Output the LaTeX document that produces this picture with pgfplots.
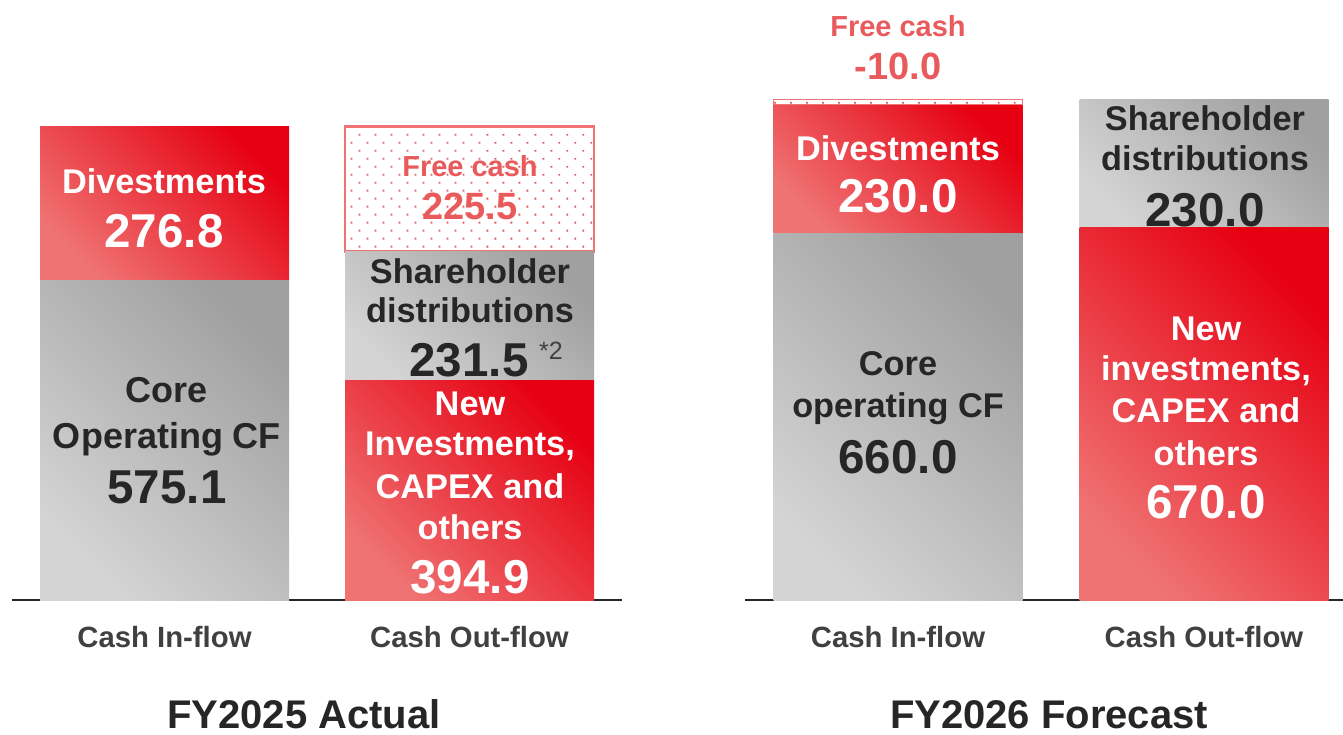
\documentclass[border=0pt]{standalone}
\usepackage{pgfplots}
\pgfplotsset{compat=1.18}
\usepackage{fontspec}
\setmainfont{Liberation Sans}
\usetikzlibrary{patterns.meta}
\definecolor{rdark}{HTML}{E60012}
\definecolor{rlight}{HTML}{EF7373}
\definecolor{gdark}{HTML}{A0A0A0}
\definecolor{glight}{HTML}{D4D4D4}
\definecolor{txtdark}{HTML}{262626}
\definecolor{catc}{HTML}{404040}
\definecolor{fcred}{HTML}{E95A5C}
\definecolor{fcborder}{HTML}{F07272}
\definecolor{axisc}{HTML}{262626}
\pgfplotsset{
  cfbar/.style={
    scale only axis, height=556pt, ymin=0, ymax=1000,
    enlargelimits=false,
    ybar stacked, bar width=249pt,
    hide y axis,
    axis x line=bottom,
    x axis line style={-, line width=2pt, color=axisc},
    xtick={0}, xtick style={draw=none},
    xticklabel style={anchor=base, yshift=-45pt, font=\fontsize{29.3}{29.3}\selectfont\bfseries, text=catc},
    clip=false,
  },
  redseg/.style={draw=none, top color=rdark, bottom color=rlight, shading angle=-45},
  grayseg/.style={draw=none, top color=gdark, bottom color=glight, shading angle=-45},
  fcseg/.style={draw=fcborder, line width=2.5pt, fill=white,
    postaction={pattern={Dots[distance=11.3pt, radius=1.3pt, angle=45]}, pattern color=fcred}},
}
\newcommand{\lbl}[5]{\node[anchor=base, text=#4, font=\fontsize{#5}{#5}\selectfont\bfseries, inner sep=0pt] at (#1pt,#2pt) {#3};}
\begin{document}
\begin{tikzpicture}
\path[use as bounding box] (0pt,0pt) rectangle (1343pt,734pt);
% FY2025 inflow
\begin{axis}[cfbar, at={(12pt,134pt)}, anchor=south west, width=305pt, xmin=-152.5, xmax=152.5, xticklabels={Cash In-flow}]
\addplot[grayseg] coordinates {(0,575.1)};
\addplot[redseg] coordinates {(0,276.8)};
\end{axis}
% FY2025 outflow
\begin{axis}[cfbar, at={(317pt,134pt)}, anchor=south west, width=305pt, xmin=-152.5, xmax=152.5, xticklabels={Cash Out-flow}]
\addplot[redseg] coordinates {(0,394.9)};
\addplot[grayseg] coordinates {(0,231.5)};
\addplot[fcseg] coordinates {(0,225.5)};
\end{axis}
% FY2026 inflow
\begin{axis}[cfbar, at={(745pt,134pt)}, anchor=south west, width=306pt, xmin=-153, xmax=153, xticklabels={Cash In-flow}]
\addplot[grayseg] coordinates {(0,660.0)};
\addplot[redseg] coordinates {(0,230.0)};
\addplot[fcseg, line width=1.5pt] coordinates {(0,10.0)};
\end{axis}
% FY2026 outflow
\begin{axis}[cfbar, at={(1051pt,134pt)}, anchor=south west, width=292pt, xmin=-153, xmax=139, xticklabels={Cash Out-flow}]
\addplot[redseg] coordinates {(0,670.0)};
\addplot[grayseg] coordinates {(0,230.0)};
\end{axis}
% labels FY2025 inflow
\lbl{164}{540}{Divestments}{white}{34.3}
\lbl{164}{486}{276.8}{white}{47.5}
\lbl{167}{331}{Core}{txtdark}{36}
\lbl{167}{285}{Operating CF}{txtdark}{36}
\lbl{167}{231}{575.1}{txtdark}{47.5}
% labels FY2025 outflow
\lbl{470}{557}{Free cash}{fcred}{29}
\lbl{470}{514}{225.5}{fcred}{38}
\lbl{470}{450}{Shareholder}{txtdark}{34.3}
\lbl{470}{411}{distributions}{txtdark}{34.3}
\lbl{469}{357}{231.5}{txtdark}{47.5}
\node[anchor=base, text=catc, font=\fontsize{25}{25}\selectfont, inner sep=0pt] at (551pt,374pt) {*2};
\lbl{470}{318}{New}{white}{34.3}
\lbl{470}{278}{Investments,}{white}{34.3}
\lbl{470}{236}{CAPEX and}{white}{34.3}
\lbl{470}{195}{others}{white}{34.3}
\lbl{470}{141}{394.9}{white}{47.5}
% labels FY2026 inflow
\lbl{898}{697}{Free cash}{fcred}{29}
\lbl{898}{654}{-10.0}{fcred}{38}
\lbl{898}{573}{Divestments}{white}{34.3}
\lbl{898}{521}{230.0}{white}{47.5}
\lbl{898}{358}{Core}{txtdark}{34.3}
\lbl{898}{316}{operating CF}{txtdark}{34.3}
\lbl{898}{261}{660.0}{txtdark}{47.5}
% labels FY2026 outflow
\lbl{1205}{603}{Shareholder}{txtdark}{34.3}
\lbl{1205}{563}{distributions}{txtdark}{34.3}
\lbl{1205}{507}{230.0}{txtdark}{47.5}
\lbl{1206}{393}{New}{white}{34.3}
\lbl{1206}{353}{investments,}{white}{34.3}
\lbl{1206}{311}{CAPEX and}{white}{34.3}
\lbl{1206}{269}{others}{white}{34.3}
\lbl{1206}{216}{670.0}{white}{47.5}
% panel titles
\lbl{304}{6}{FY2025 Actual}{txtdark}{40}
\lbl{1049}{6}{FY2026 Forecast}{txtdark}{40}
\end{tikzpicture}
\end{document}
